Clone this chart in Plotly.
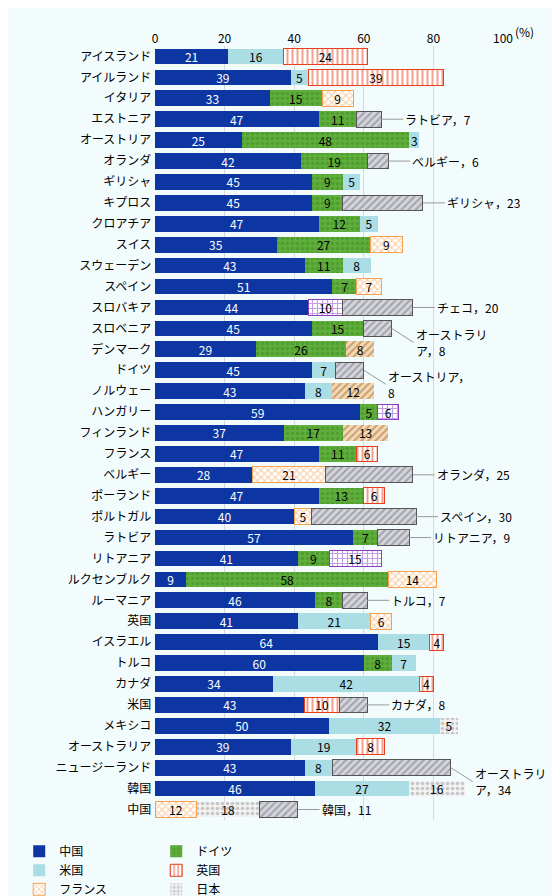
import plotly.graph_objects as go

countries = ["アイスランド","アイルランド","イタリア","エストニア","オーストリア","オランダ","ギリシャ","キプロス","クロアチア","スイス",
 "スウェーデン","スペイン","スロバキア","スロベニア","デンマーク","ドイツ","ノルウェー","ハンガリー","フィンランド","フランス",
 "ベルギー","ポーランド","ポルトガル","ラトビア","リトアニア","ルクセンブルク","ルーマニア","英国","イスラエル","トルコ",
 "カナダ","米国","メキシコ","オーストラリア","ニュージーランド","韓国","中国"]
N = None
china   = [21,39,33,47,25,42,45,45,47,35,43,51,44,45,29,45,43,59,37,47,28,47,40,57,41,9,46,41,64,60,34,43,50,39,43,46,N]
germany = [N,N,15,11,48,19,9,9,12,27,11,7,N,15,26,N,N,5,17,11,N,13,N,7,9,58,8,N,N,8,N,N,N,N,N,N,N]
us      = [16,5,N,N,3,N,5,N,5,N,8,N,N,N,N,7,8,N,N,N,N,N,N,N,N,N,N,21,15,7,42,N,32,19,8,27,N]
uk      = [24,39,N,N,N,N,N,N,N,N,N,N,N,N,N,N,N,N,N,6,N,6,N,N,N,N,N,N,4,N,4,10,N,8,N,N,N]
france  = [N,N,9,N,N,N,N,N,N,9,N,7,N,N,N,N,N,N,N,N,21,N,5,N,N,14,N,6,N,N,N,N,N,N,N,N,12]
japan   = [N,N,N,N,N,N,N,N,N,N,N,N,N,N,N,N,N,N,N,N,N,N,N,N,N,N,N,N,N,N,N,N,5,N,N,16,18]
sweden  = [N,N,N,N,N,N,N,N,N,N,N,N,N,N,8,N,12,N,13,N,N,N,N,N,N,N,N,N,N,N,N,N,N,N,N,N,N]
poland  = [N,N,N,N,N,N,N,N,N,N,N,N,10,N,N,N,N,6,N,N,N,N,N,N,15,N,N,N,N,N,N,N,N,N,N,N,N]
other   = [N,N,N,7,N,6,N,23,N,N,N,N,20,8,N,8,N,N,N,N,25,N,30,9,N,N,7,N,N,N,N,8,N,N,34,N,11]
other_labels = {"エストニア":"ラトビア，7","オランダ":"ベルギー，6","キプロス":"ギリシャ，23","スロバキア":"チェコ，20",
 "スロベニア":"オーストラリ<br>ア，8","ドイツ":"オーストリア，<br>8","ベルギー":"オランダ，25","ポルトガル":"スペイン，30",
 "ラトビア":"リトアニア，9","ルーマニア":"トルコ，7","米国":"カナダ，8","ニュージーランド":"オーストラリ<br>ア，34","中国":"韓国，11"}

series = [
 ("中国", china, "#0d36a3", "", "#0d36a3", "white"),
 ("ドイツ", germany, "#5fae3c", ".", "#3f8a22", "black"),
 ("米国", us, "#abdde4", "", "#abdde4", "black"),
 ("英国", uk, "#ffffff", "|", "#e8401c", "black"),
 ("フランス", france, "#ffffff", "x", "#f7a050", "black"),
 ("日本", japan, "#f2f2f2", ".", "#9a9a9a", "black"),
 ("スウェーデン", sweden, "#f3d9b8", "/", "#a0651e", "black"),
 ("ポーランド", poland, "#ffffff", "+", "#8a3fc0", "black"),
 ("その他", other, "#d4d4dc", "/", "#707078", "black"),
]

fig = go.Figure()
for name, vals, col, shape, fg, tc in series:
    txt = [("" if v is None else str(v)) for v in vals]
    if name == "その他":
        txt = ["" for v in vals]
    fig.add_trace(go.Bar(
        name=name, y=countries, x=vals, orientation="h",
        text=txt, textposition="inside", insidetextanchor="middle",
        textfont=dict(color=tc, size=12), textangle=0,
        marker=dict(color=col, pattern=dict(shape=shape, fgcolor=fg, size=5, solidity=0.4) if shape else None,
                    line=dict(color=("#555" if name=="その他" else fg), width=1 if name in ("その他","英国","フランス","ポーランド") else 0)),
        hoverinfo="skip"))

segs = [china, germany, us, uk, france, japan, sweden, poland, other]
for i, c in enumerate(countries):
    if c in other_labels:
        end = sum((s[i] or 0) for s in segs)
        ay = 14 if "<br>" in other_labels[c] else 0
        fig.add_annotation(x=end, y=c, text=other_labels[c], showarrow=True, arrowhead=0, arrowwidth=1,
                           arrowcolor="#999", ax=22, ay=ay, xanchor="left", align="left",
                           font=dict(size=12, color="black"))

fig.add_annotation(x=1.0, xref="paper", y=1.0, yref="paper", text="(%)", showarrow=False,
                   xanchor="left", yanchor="bottom", xshift=10, yshift=4, font=dict(size=12))

fig.update_layout(
    width=560, height=896, barmode="stack", bargap=0.25,
    margin=dict(l=147, r=65, t=38, b=84, autoexpand=False),
    plot_bgcolor="#f3fcfd", paper_bgcolor="#f3fcfd",
    font=dict(family="Noto Sans CJK JP", size=12, color="black"),
    xaxis=dict(side="top", range=[0, 100], tickvals=[0,20,40,60,80,100], showgrid=True,
               gridcolor="#d8d8d8", zeroline=False, fixedrange=True),
    yaxis=dict(autorange="reversed", ticksuffix=" ", fixedrange=True),
    legend=dict(orientation="h", xref="container", x=0.02, xanchor="left",
                yref="container", y=0.075, yanchor="top",
                entrywidth=92, font=dict(size=12), traceorder="normal"),
    uniformtext=dict(minsize=9, mode="show"),
)
fig.write_html("out.html")
